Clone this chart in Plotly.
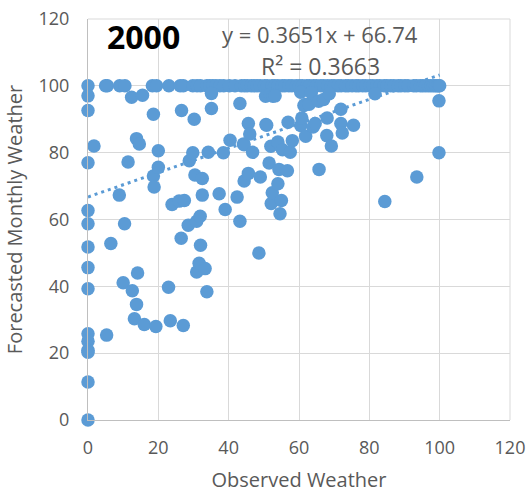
import plotly.graph_objects as go

# Row of points at forecast = 100
top_x = [0, 5, 5.5, 9, 10.5, 18.3, 19.5, 23, 26.2, 27.1, 29.8, 31, 32, 33.8, 34.6, 35.5, 36.4, 37.5, 38.6, 40.2, 41.8,
         43.6, 44.5, 45.3, 46.4, 47.2, 48.1, 49, 50.2, 51, 52.3, 53.1, 54, 55.2, 56, 57.1, 58, 59.2, 60.1, 61, 62.2,
         63, 64.1, 65, 66.2, 67, 68.1, 69.2, 70, 71.1, 72, 73.2, 74, 75.1, 76.2, 77, 78.1, 79, 80.2, 81, 82.1, 83,
         84.2, 85, 86.1, 87, 88.2, 89, 90.1, 91, 92.6, 93.4, 94.5, 95.2, 96, 96.8, 97.5, 98.2, 98.8, 99.3, 99.7, 100]

# All other points
other_x = [0, 0, 0, 0, 0, 0, 0, 0, 0, 0, 0, 0, 0, 0,
           1.7, 5.3, 6.5, 8.9, 10, 10.4, 11.4, 12.4, 12.6, 13.2, 13.8, 13.8, 14.1, 14.6, 15.5, 16,
           18.6, 18.6, 18.8, 19.3, 20, 20, 22.9, 23.4, 23.9, 25.9, 26.5, 26.6, 27.1, 27.4, 28.5, 28.8,
           29.8, 30.2, 30.4, 30.9, 30.9, 31.6, 31.9, 32, 32.5, 32.5, 33.3, 33.8, 34.2, 35.1, 35.1, 37.3,
           38.5, 39, 40.4, 42.4, 43.2, 43.2, 44.2, 44.4, 44.4, 45.6, 45.6, 46, 46.8, 48.6, 49, 50.5, 50.6, 50.8,
           51.5, 51.8, 52, 52.1, 52.4, 52.6, 53.2, 53.9, 54, 54, 54.3, 54.6, 55, 55.3, 56.7, 56.9, 57.5, 58.1,
           60.5, 60.5, 60.8, 61.4, 61.7, 61.9, 62.9, 63.5, 64, 64.6, 65.6, 65.7, 67, 68, 67.9, 68.6, 69.2,
           71.9, 71.9, 72.3, 75.5, 81.6, 84.4, 93.5, 99.8, 99.8]
other_y = [97, 92.6, 77, 62.7, 58.7, 51.8, 45.6, 39.3, 25.8, 23.6, 20.9, 20.3, 11.4, 0,
           82, 25.4, 52.8, 67.3, 41.1, 58.7, 77.2, 96.6, 38.7, 30.3, 84.2, 34.6, 44, 82.6, 97.2, 28.6,
           91.5, 73, 69.7, 28, 80.6, 75.6, 39.7, 29.7, 64.5, 65.5, 54.4, 92.6, 28.3, 65.7, 58.3, 77.6,
           80, 90, 73.3, 59.5, 44.3, 46.9, 61, 52.3, 72.3, 67.3, 45.3, 38.4, 80.1, 93.2, 97.7, 67.7,
           80, 63, 83.7, 66.7, 94.7, 59.5, 82.6, 82.4, 71.5, 88.7, 73.8, 85.6, 80.1, 50, 72.7, 96.9, 88.4, 88.2,
           76.9, 97.4, 81.9, 64.8, 68, 96.9, 97, 82.9, 83.2, 70.7, 75, 61.7, 65.7, 80.9, 74.6, 89.1, 80.1, 83.6,
           98.1, 88.1, 90.4, 94.1, 94.4, 84.9, 94.5, 97.9, 87.7, 88.7, 95.4, 75, 95.9, 90.4, 85.1, 97.6, 82,
           93, 88.7, 85.9, 88.2, 97.6, 65.4, 72.7, 95.5, 80]

top_y = [100] * len(top_x)
trend_x = [0, 100]
trend_y = [66.74, 103.25]
tick_vals = [0, 20, 40, 60, 80, 100, 120]
title_text = "2000"
equation_text = "y = 0.3651x + 66.74"
r2_text = "R² = 0.3663"

FONT = "Open Sans"
TEXT = "#595959"
GRID = "#D9D9D9"
BLUE = "#5B9BD5"

fig = go.Figure()
fig.add_trace(go.Scatter(x=trend_x, y=trend_y, mode="lines",
                         line=dict(color=BLUE, width=3, dash="3px,4px"), cliponaxis=False))
fig.add_trace(go.Scatter(x=top_x + other_x, y=top_y + other_y, mode="markers",
                         marker=dict(color=BLUE, size=13.5, line=dict(width=0)), cliponaxis=False))

axis = dict(range=[0, 120], tickvals=tick_vals, showgrid=True, gridcolor=GRID, gridwidth=1,
            zeroline=False, showline=True, linecolor="#BFBFBF", linewidth=1, mirror=False,
            ticks="outside", tickcolor="rgba(0,0,0,0)", tickfont=dict(family=FONT, size=18, color=TEXT),
            automargin=False)

fig.update_layout(
    width=528, height=498, autosize=False, showlegend=False,
    paper_bgcolor="white", plot_bgcolor="white",
    margin=dict(l=88, r=18, t=19, b=78),
    xaxis={**axis, "ticklen": 11,
           "title": dict(text="Observed Weather", standoff=15, font=dict(family=FONT, size=20, color=TEXT))},
    yaxis={**axis, "ticklen": 14,
           "title": dict(text="Forecasted Monthly Weather", standoff=10, font=dict(family=FONT, size=20, color=TEXT))},
    shapes=[dict(type="line", xref="paper", yref="paper", x0=1, x1=1, y0=0, y1=1, line=dict(color=GRID, width=1)),
            dict(type="line", xref="paper", yref="paper", x0=0, x1=1, y0=1, y1=1, line=dict(color=GRID, width=1))],
    annotations=[
        dict(text=f"<b>{title_text}</b>", x=15.8, y=114.8, xref="x", yref="y", showarrow=False,
             font=dict(family="Open Sans", size=32, color="black")),
        dict(text=equation_text, x=66, y=115.5, xref="x", yref="y", showarrow=False,
             font=dict(family=FONT, size=22, color=TEXT)),
        dict(text=r2_text, x=66, y=105.8, xref="x", yref="y", showarrow=False,
             font=dict(family=FONT, size=23, color=TEXT)),
    ],
)
fig.write_html("out.html", config=dict(displayModeBar=False), post_script="document.body.style.margin='0';")
